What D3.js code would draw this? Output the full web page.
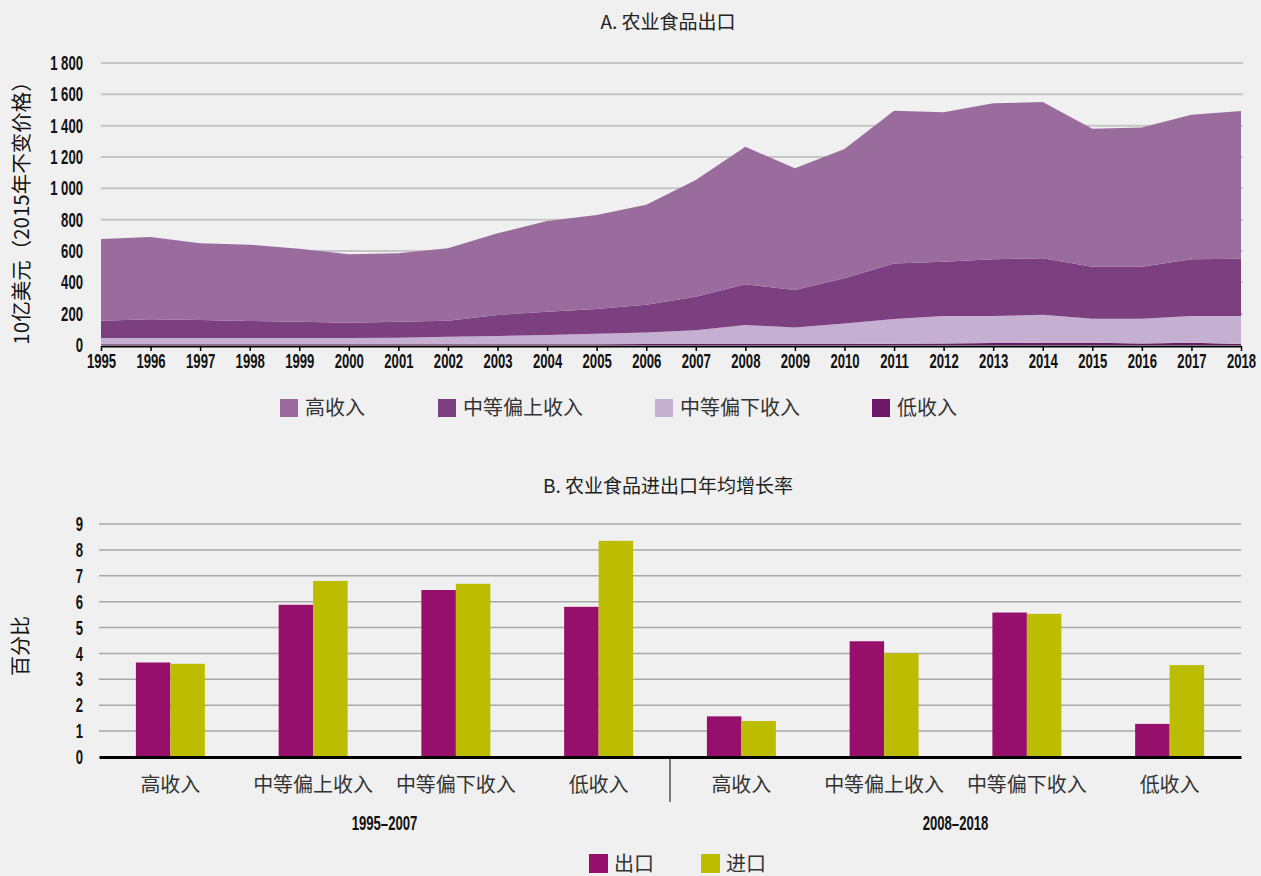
<!DOCTYPE html>
<meta charset="utf-8">
<title>农业食品出口</title>
<script src="https://d3js.org/d3.v7.min.js"></script>
<style>
body { margin: 0; background: #f0f0f0; }
.num text, text.num { font-family: "Liberation Sans", Arial, sans-serif; font-size: 20.5px; font-weight: bold; fill: #111; }
.cjk { font-family: "Noto Sans CJK SC", sans-serif; }
</style>
<body>
<div id="chart"></div>
<script>
// ---- data ----
var years = [1995, 1996, 1997, 1998, 1999, 2000, 2001, 2002, 2003, 2004, 2005, 2006,
             2007, 2008, 2009, 2010, 2011, 2012, 2013, 2014, 2015, 2016, 2017, 2018];
var lowIncome   = [5, 5, 5, 5, 5, 5, 5, 5, 5, 5, 5, 6, 6, 7, 7, 7, 8, 9, 12, 14, 14, 9, 14, 6];
var lowerMiddle = [40, 40, 40, 40, 40, 40, 41, 48, 52, 59, 67, 73, 88, 121, 104, 131, 158, 176, 173, 179, 154, 159, 171, 179];
var upperMiddle = [110, 119, 115, 108, 104, 97, 103, 102, 134, 149, 158, 178, 214, 259, 240, 288, 355, 347, 362, 360, 332, 332, 362, 366];
var highIncome  = [521, 525, 489, 487, 466, 437, 436, 462, 522, 578, 600, 638, 745, 878, 777, 825, 974, 953, 996, 998, 880, 889, 923, 942];
var yTicksTop = [0, 200, 400, 600, 800, 1000, 1200, 1400, 1600, 1800];

var areaNames  = ["高收入", "中等偏上收入", "中等偏下收入", "低收入"];
var areaColors = ["#9a6c9e", "#7c3f80", "#c6b0d1", "#6b1868"];

var incomeGroups = ["高收入", "中等偏上收入", "中等偏下收入", "低收入"];
var periods = ["1995–2007", "2008–2018"];
var exportGrowth = [3.65, 5.88, 6.45, 5.8, 1.57, 4.47, 5.58, 1.28];
var importGrowth = [3.6, 6.8, 6.69, 8.35, 1.39, 4.01, 5.53, 3.55];
var yTicksBottom = [0, 1, 2, 3, 4, 5, 6, 7, 8, 9];
var barNames  = ["出口", "进口"];
var barColors = ["#960f6b", "#bcbc00"];

// narrow look for the number labels (no condensed font installed)
var squeeze = 0.64;
function condense(g, pad) {
  g.selectAll("text")
    .attr("transform", "scale(" + squeeze + ",1)");
  if (pad) g.selectAll("text").attr("x", -pad / squeeze);
}

var svg = d3.select("#chart")
  .append("svg")
    .attr("width", 1261)
    .attr("height", 876);

// ================= A. 农业食品出口 =================
var x = d3.scalePoint().domain(years).range([101, 1241]);
var y = d3.scaleLinear().domain([0, 1800]).range([345, 63]);

svg.append("text")
  .attr("class", "cjk")
  .attr("x", 668).attr("y", 22)
  .attr("dy", "0.35em")
  .attr("text-anchor", "middle")
  .style("font-size", "19px").style("fill", "#222")
  .text("A. 农业食品出口");

// gridlines
svg.append("g")
  .selectAll("line")
  .data(yTicksTop.slice(1))
  .enter().append("line")
    .attr("x1", 101).attr("x2", 1243)
    .attr("y1", function(d) { return y(d); })
    .attr("y2", function(d) { return y(d); })
    .style("stroke", "#c6c6c6")
    .style("stroke-width", 2);

var rows = years.map(function(yr, i) {
  return {year: yr, low: lowIncome[i], lowMid: lowerMiddle[i], upMid: upperMiddle[i], high: highIncome[i]};
});
var keys = ["low", "lowMid", "upMid", "high"];
var keyColor = {high: areaColors[0], upMid: areaColors[1], lowMid: areaColors[2], low: areaColors[3]};
var stacked = d3.stack().keys(keys)(rows);

var area = d3.area()
  .x(function(d) { return x(d.data.year); })
  .y0(function(d) { return y(d[0]); })
  .y1(function(d) { return y(d[1]); });

svg.append("g")
  .selectAll("path")
  .data(stacked)
  .enter().append("path")
    .attr("d", area)
    .style("fill", function(d) { return keyColor[d.key]; });

// y axis
svg.append("g")
  .attr("class", "num")
  .attr("transform", "translate(101,0)")
  .call(d3.axisLeft(y).tickValues(yTicksTop).tickSize(0).tickPadding(18)
    .tickFormat(function(d) { return d3.format(",")(d).replace(",", " "); }))
  .call(function(g) { g.select(".domain").remove(); })
  .call(condense, 18);

// x axis
var xAxis = svg.append("g")
  .attr("class", "num")
  .attr("transform", "translate(0,346)")
  .call(d3.axisBottom(x).tickSizeInner(5).tickSizeOuter(0).tickPadding(2))
  .call(condense);
xAxis.select(".domain").style("stroke", "#000").style("stroke-width", 2);
xAxis.selectAll(".tick line").style("stroke", "#000").style("stroke-width", 1.5);

svg.append("text")
  .attr("class", "cjk")
  .attr("transform", "translate(22,208) rotate(-90)")
  .attr("dy", "0.35em")
  .attr("text-anchor", "middle")
  .style("font-size", "20.5px").style("fill", "#111")
  .text("10亿美元（2015年不变价格）");

// legend A
var legA = svg.append("g")
  .selectAll("g")
  .data(areaNames)
  .enter().append("g")
    .attr("transform", function(d, i) { return "translate(" + [280, 438, 655, 872][i] + ",399)"; });
legA.append("rect")
  .attr("width", 18).attr("height", 18)
  .style("fill", function(d, i) { return areaColors[i]; });
legA.append("text")
  .attr("class", "cjk")
  .attr("x", 25).attr("y", 9).attr("dy", "0.35em")
  .style("font-size", "20px").style("fill", "#333")
  .text(function(d) { return d; });

// ================= B. 农业食品进出口年均增长率 =================
var xb = d3.scaleBand().domain(d3.range(exportGrowth.length)).range([99, 1241]);
var xs = d3.scaleBand().domain(["export", "import"]).range([0, xb.bandwidth()]).paddingOuter(1.07);
var yb = d3.scaleLinear().domain([0, 9]).range([757, 524]);

svg.append("text")
  .attr("class", "cjk")
  .attr("x", 668).attr("y", 486)
  .attr("dy", "0.35em")
  .attr("text-anchor", "middle")
  .style("font-size", "19px").style("fill", "#222")
  .text("B. 农业食品进出口年均增长率");

svg.append("g")
  .selectAll("line")
  .data(yTicksBottom.slice(1))
  .enter().append("line")
    .attr("x1", 99).attr("x2", 1241)
    .attr("y1", function(d) { return yb(d); })
    .attr("y2", function(d) { return yb(d); })
    .style("stroke", "#a8a8a8")
    .style("stroke-width", 1.5);

var bars = svg.append("g")
  .selectAll("g")
  .data(exportGrowth.map(function(v, i) { return {i: i, export: v, import: importGrowth[i]}; }))
  .enter().append("g")
    .attr("transform", function(d) { return "translate(" + xb(d.i) + ",0)"; });
bars.selectAll("rect")
  .data(function(d) { return [{k: "export", v: d.export}, {k: "import", v: d.import}]; })
  .enter().append("rect")
    .attr("x", function(d) { return xs(d.k); })
    .attr("width", xs.bandwidth())
    .attr("y", function(d) { return yb(d.v); })
    .attr("height", function(d) { return yb(0) - yb(d.v); })
    .style("fill", function(d, j) { return barColors[j]; });

svg.append("g")
  .attr("class", "num")
  .attr("transform", "translate(99,0)")
  .call(d3.axisLeft(yb).tickValues(yTicksBottom).tickSize(0).tickPadding(16))
  .call(function(g) { g.select(".domain").remove(); })
  .call(condense, 16);

// category axis
var xbAxis = svg.append("g")
  .attr("transform", "translate(0,757)")
  .call(d3.axisBottom(xb).tickSize(0).tickPadding(21)
    .tickFormat(function(i) { return incomeGroups[i % incomeGroups.length]; }));
xbAxis.select(".domain").style("stroke", "#000").style("stroke-width", 3);
xbAxis.selectAll("text")
  .attr("class", "cjk")
  .style("font-size", "20px").style("fill", "#333");

// period separator + labels
svg.append("line")
  .attr("x1", xb(4)).attr("x2", xb(4))
  .attr("y1", 757).attr("y2", 802)
  .style("stroke", "#000").style("stroke-width", 1);
svg.append("g")
  .selectAll("g")
  .data(periods)
  .enter().append("g")
    .attr("transform", function(d, i) {
      return "translate(" + (xb(i * 4) + xb(i * 4 + 3) + xb.bandwidth()) / 2 + ",823)";
    })
  .append("text")
    .attr("class", "num")
    .attr("dy", "0.35em")
    .attr("text-anchor", "middle")
    .attr("transform", "scale(" + squeeze + ",1)")
    .text(function(d) { return d; });

svg.append("text")
  .attr("class", "cjk")
  .attr("transform", "translate(21,646) rotate(-90)")
  .attr("dy", "0.35em")
  .attr("text-anchor", "middle")
  .style("font-size", "20px").style("fill", "#111")
  .text("百分比");

// legend B
var legB = svg.append("g")
  .selectAll("g")
  .data(barNames)
  .enter().append("g")
    .attr("transform", function(d, i) { return "translate(" + [589, 701][i] + ",854)"; });
legB.append("rect")
  .attr("width", 19).attr("height", 19)
  .style("fill", function(d, i) { return barColors[i]; });
legB.append("text")
  .attr("class", "cjk")
  .attr("x", 25).attr("y", 10).attr("dy", "0.35em")
  .style("font-size", "20px").style("fill", "#333")
  .text(function(d) { return d; });
</script>
